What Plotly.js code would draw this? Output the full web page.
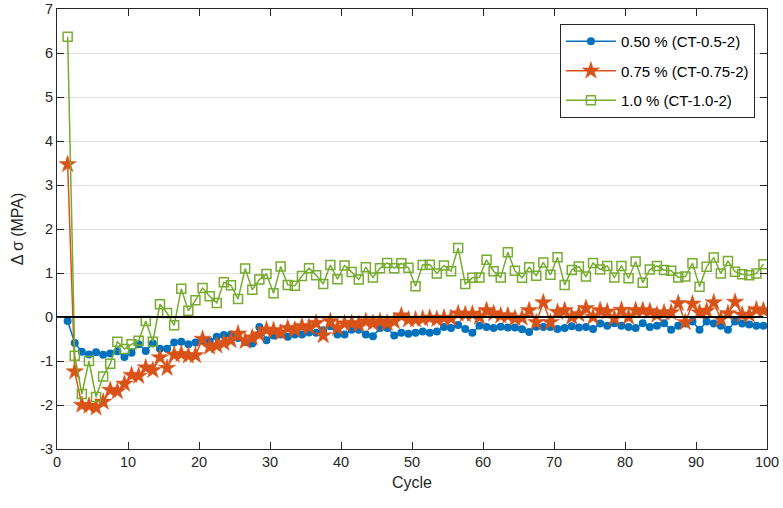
<!DOCTYPE html>
<html>
<head>
<meta charset="utf-8">
<script src="https://cdn.plot.ly/plotly-3.0.1.min.js"></script>
<style>html,body{margin:0;padding:0;background:#fff;}#chart{width:783px;height:508px;}</style>
</head>
<body>
<div id="chart"></div>
<script>
// Cycle positions of the plotted points (first point at 1.5, step 1)
const firstCycle = 1.5;
const seriesNames = ["0.50 % (CT-0.5-2)", "0.75 % (CT-0.75-2)", "1.0 % (CT-1.0-2)"];

const s050 = [-0.09,-0.59,-0.79,-0.85,-0.80,-0.86,-0.83,-0.78,-0.91,-0.81,
-0.62,-0.77,-0.60,-0.72,-0.72,-0.58,-0.56,-0.62,-0.58,-0.53,
-0.55,-0.45,-0.41,-0.40,-0.48,-0.57,-0.60,-0.23,-0.53,-0.42,
-0.40,-0.45,-0.40,-0.40,-0.35,-0.36,-0.30,-0.21,-0.40,-0.40,
-0.29,-0.29,-0.40,-0.44,-0.25,-0.25,-0.42,-0.36,-0.38,-0.36,
-0.33,-0.36,-0.33,-0.23,-0.25,-0.18,-0.27,-0.36,-0.20,-0.23,
-0.25,-0.22,-0.24,-0.24,-0.28,-0.34,-0.22,-0.23,-0.23,-0.27,
-0.25,-0.21,-0.24,-0.23,-0.27,-0.15,-0.20,-0.14,-0.20,-0.23,
-0.25,-0.14,-0.23,-0.20,-0.14,-0.29,-0.20,-0.15,-0.10,-0.29,
-0.10,-0.15,-0.20,-0.29,-0.10,-0.15,-0.17,-0.20,-0.20];

const s075 = [3.47,-1.24,-2.00,-2.02,-2.06,-1.93,-1.66,-1.69,-1.52,-1.32,
-1.34,-1.15,-1.21,-0.92,-1.16,-0.86,-0.84,-0.88,-0.87,-0.50,
-0.68,-0.65,-0.59,-0.53,-0.38,-0.55,-0.47,-0.40,-0.29,-0.30,
-0.36,-0.25,-0.29,-0.21,-0.23,-0.14,-0.42,-0.10,-0.25,-0.15,
-0.14,-0.17,-0.10,-0.14,-0.10,-0.14,-0.10,0.03,-0.06,-0.06,
-0.04,-0.02,-0.05,-0.02,-0.03,0.08,0.06,0.07,0.00,0.15,
0.08,0.03,0.03,-0.03,-0.02,0.15,-0.12,0.33,-0.12,0.11,
0.15,0.00,0.06,0.20,0.00,0.15,0.12,-0.03,0.16,0.00,
0.15,0.15,0.13,0.05,0.10,0.10,0.31,-0.12,0.30,0.10,
0.14,0.33,-0.05,0.08,0.34,0.05,0.05,0.17,0.15];

const s100 = [6.37,-0.88,-1.75,-1.00,-1.82,-1.35,-1.06,-0.56,-0.73,-0.62,
-0.54,-0.09,-0.56,0.29,0.09,-0.19,0.64,0.14,0.38,0.66,
0.47,0.32,0.79,0.72,0.41,1.10,0.62,0.85,0.98,0.54,
1.15,0.73,0.71,0.93,1.11,0.95,0.75,1.18,0.86,1.17,
1.02,0.85,1.13,0.90,1.11,1.23,1.11,1.22,1.12,0.70,
1.18,1.19,0.99,1.17,1.04,1.57,0.75,0.89,0.90,1.30,
1.04,0.90,1.47,1.05,0.89,1.13,0.94,1.24,0.96,1.36,
0.73,1.07,1.15,0.92,1.23,1.08,1.16,0.90,1.16,0.88,
1.26,0.78,1.08,1.16,1.07,1.05,0.90,0.92,1.22,0.69,
1.14,1.35,0.99,1.27,1.03,0.97,0.95,0.99,1.20];

const yTickVals = [-3,-2,-1,0,1,2,3,4,5,6,7];
const yTickText = ["-3","-2","-1","0","1","2","3","4","5","6","7"];
const xTickVals = [0,10,20,30,40,50,60,70,80,90,100];

const cycles = s050.map((_, i) => firstCycle + i);

const traces = [
  {x: cycles, y: s050, name: seriesNames[0], legendgroup: "a", mode: "lines+markers",
   line: {color: "#0072BD", width: 1.5},
   marker: {symbol: "circle", size: 8, color: "#0072BD"}},
  {x: cycles, y: s075, name: seriesNames[1], legendgroup: "b", mode: "lines+markers",
   line: {color: "#D95319", width: 1.5},
   marker: {symbol: "star", size: 13, color: "#D95319", line: {color: "#D95319", width: 0.5}}},
  {x: cycles, y: s100, name: seriesNames[2], legendgroup: "c", mode: "lines+markers",
   line: {color: "#77AC30", width: 1.5},
   marker: {symbol: "square-open", size: 9, color: "#77AC30", line: {width: 1.5}}},
  {x: [0, cycles[cycles.length - 1]], y: [0, 0], mode: "lines", showlegend: false,
   hoverinfo: "skip", line: {color: "#000000", width: 2.2}}
];

const layout = {
  width: 783, height: 508,
  margin: {l: 57, r: 16, t: 9, b: 59},
  paper_bgcolor: "#ffffff", plot_bgcolor: "#ffffff",
  font: {family: "Liberation Sans, Arial, sans-serif", size: 14, color: "#262626"},
  showlegend: true,
  legend: {x: 0.983, xanchor: "right", y: 0.966, yanchor: "top",
    traceorder: "grouped", tracegroupgap: 7, itemwidth: 50,
    bgcolor: "#ffffff", bordercolor: "#262626", borderwidth: 1,
    font: {size: 15, color: "#000000"}},
  xaxis: {range: [0, 100], tickvals: xTickVals, ticks: "inside", ticklen: 7, tickcolor: "#262626",
    showline: true, linecolor: "#262626", linewidth: 1, mirror: "ticks", showgrid: false, zeroline: false,
    tickfont: {size: 14.5}, title: {text: "Cycle", font: {size: 16}, standoff: 7}},
  yaxis: {range: [-3, 7], tickvals: yTickVals, ticktext: yTickText, ticks: "inside", ticklen: 7, tickcolor: "#262626",
    showline: true, linecolor: "#262626", linewidth: 1, mirror: "ticks", showgrid: true, gridcolor: "#dfdfdf", gridwidth: 1,
    zeroline: false, tickfont: {size: 14.5}, title: {text: "Δ σ (MPA)", font: {size: 16}, standoff: 12}}
};

Plotly.newPlot("chart", traces, layout, {staticPlot: true, displayModeBar: false});
</script>
</body>
</html>
